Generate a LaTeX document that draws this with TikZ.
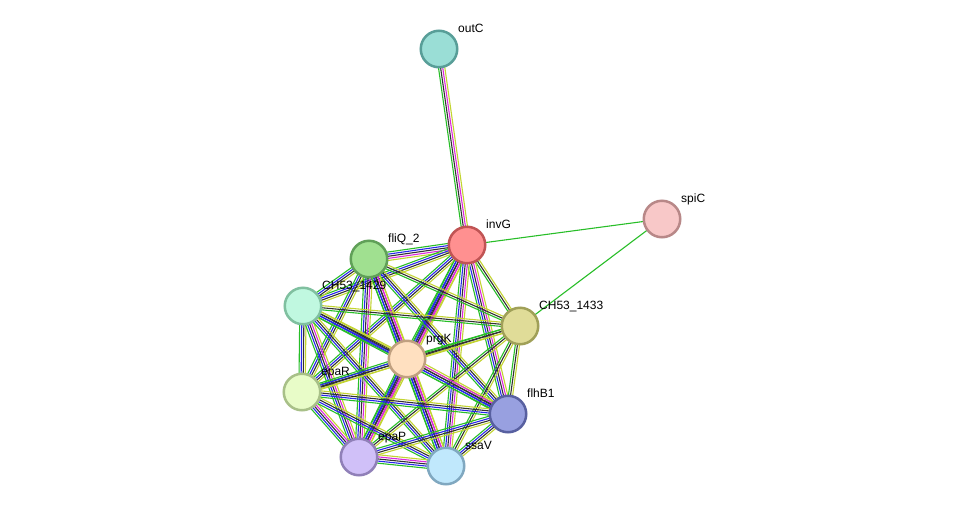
\documentclass[tikz,border=0pt]{standalone}
\usepackage{fontspec}
\setmainfont{Liberation Sans}
\usetikzlibrary{calc,backgrounds}
\definecolor{eg}{RGB}{40,190,40}
\definecolor{eb}{RGB}{40,40,235}
\definecolor{ek}{RGB}{50,50,50}
\definecolor{em}{RGB}{220,40,220}
\definecolor{ey}{RGB}{195,212,50}
\tikzset{
  prot/.style={circle,line width=2.5pt,minimum size=36.5pt,inner sep=0pt},
  lbl/.style={anchor=base west,font=\fontsize{12}{14}\selectfont,inner sep=0pt},
  strand/.style={line width=1.1pt}
}
\newcommand\sedge[3]{%
  \def\nn{0}\foreach \c in {#3}{\xdef\nn{\the\numexpr\nn+1\relax}}%
  \foreach \c [count=\i] in {#3}{%
    \pgfmathsetlengthmacro\off{(\i-(\nn+1)/2)*2.1pt}%
    \draw[strand,\c] ($(#1.center)!\off!90:(#2.center)$) -- ($(#2.center)!\off!-90:(#1.center)$);
  }}
\begin{document}
\begin{tikzpicture}[x=1pt,y=-1pt]
\useasboundingbox (0,0) rectangle (975,512);
\node[prot,fill={rgb,255:red,154;green,222;blue,214},draw={rgb,255:red,88;green,158;blue,152}] (O) at (439,49) {};
\node[prot,fill={rgb,255:red,255;green,144;blue,144},draw={rgb,255:red,192;green,84;blue,84}] (I) at (467,245) {};
\node[prot,fill={rgb,255:red,248;green,200;blue,200},draw={rgb,255:red,184;green,136;blue,136}] (C) at (662,219) {};
\node[prot,fill={rgb,255:red,160;green,224;blue,144},draw={rgb,255:red,96;green,160;blue,88}] (F) at (369,259) {};
\node[prot,fill={rgb,255:red,192;green,248;blue,224},draw={rgb,255:red,128;green,192;blue,160}] (A) at (303,306) {};
\node[prot,fill={rgb,255:red,224;green,220;blue,152},draw={rgb,255:red,160;green,160;blue,88}] (B) at (520,326) {};
\node[prot,fill={rgb,255:red,255;green,224;blue,192},draw={rgb,255:red,192;green,160;blue,128}] (P) at (407,359) {};
\node[prot,fill={rgb,255:red,232;green,252;blue,200},draw={rgb,255:red,168;green,192;blue,136}] (R) at (302,392) {};
\node[prot,fill={rgb,255:red,152;green,160;blue,224},draw={rgb,255:red,88;green,96;blue,160}] (H) at (508,414) {};
\node[prot,fill={rgb,255:red,208;green,192;blue,248},draw={rgb,255:red,144;green,128;blue,184}] (E) at (359,457) {};
\node[prot,fill={rgb,255:red,192;green,232;blue,252},draw={rgb,255:red,128;green,168;blue,192}] (S) at (446,466) {};
\node[lbl] (lO) at (458,32) {outC};
\node[lbl] (lI) at (486,228) {invG};
\node[lbl] (lC) at (681,202) {spiC};
\node[lbl] (lF) at (388,242) {fliQ\_2};
\node[lbl] (lA) at (322,289) {CH53\_1429};
\node[lbl] (lB) at (539,309) {CH53\_1433};
\node[lbl] (lP) at (426,342) {prgK};
\node[lbl] (lR) at (321,375) {epaR};
\node[lbl] (lH) at (527,397) {flhB1};
\node[lbl] (lE) at (378,440) {epaP};
\node[lbl] (lS) at (465,449) {ssaV};
\begin{scope}[on background layer]
\fill[white] (0,0) rectangle (975,512);
\sedge{O}{I}{eg,ek,em,ey}
\sedge{I}{C}{eg}
\sedge{B}{C}{eg}
\sedge{I}{F}{eg,eb,ek,em,ey}
\sedge{I}{A}{eg,eb,ek,ey}
\sedge{I}{B}{eg,ek,ey}
\sedge{I}{P}{eg,eb,ek,em,ey}
\sedge{I}{R}{eg,eb,ek,ey}
\sedge{I}{H}{eg,eb,ek,em,ey}
\sedge{I}{E}{eg,eb,ek,em,ey}
\sedge{I}{S}{eg,eb,ek,em,ey}
\sedge{F}{A}{eg,eb,ek,ey}
\sedge{F}{B}{eg,ek,ey}
\sedge{F}{P}{eg,eb,ek,em,ey}
\sedge{F}{R}{eg,eb,ek,ey}
\sedge{F}{H}{eg,eb,ek,ey}
\sedge{F}{E}{eg,eb,ek,em,ey}
\sedge{F}{S}{eg,eb,ek,em,ey}
\sedge{A}{B}{eg,ek,ey}
\sedge{A}{P}{eg,eb,ek,ey}
\sedge{A}{R}{eg,eb,ek,ey}
\sedge{A}{H}{eg,eb,ek,ey}
\sedge{A}{E}{eg,eb,ek,em,ey}
\sedge{A}{S}{eg,eb,ek,ey}
\sedge{B}{P}{eg,ek,ey}
\sedge{B}{R}{eg,ek,ey}
\sedge{B}{H}{eg,ek,ey}
\sedge{B}{E}{eg,ek,ey}
\sedge{B}{S}{eg,ek,ey}
\sedge{P}{R}{eg,eb,ek,ey}
\sedge{P}{H}{eg,eb,ek,em,ey}
\sedge{P}{E}{eg,eb,ek,em,ey}
\sedge{P}{S}{eg,eb,ek,em,ey}
\sedge{R}{H}{eg,eb,ek,ey}
\sedge{R}{E}{eg,eb,ek,em,ey}
\sedge{R}{S}{eg,eb,ek,ey}
\sedge{H}{E}{eg,eb,ek,ey}
\sedge{H}{S}{eg,eb,ek,ey}
\sedge{E}{S}{eg,eb,ek,em,ey}
\end{scope}
\end{tikzpicture}
\end{document}
